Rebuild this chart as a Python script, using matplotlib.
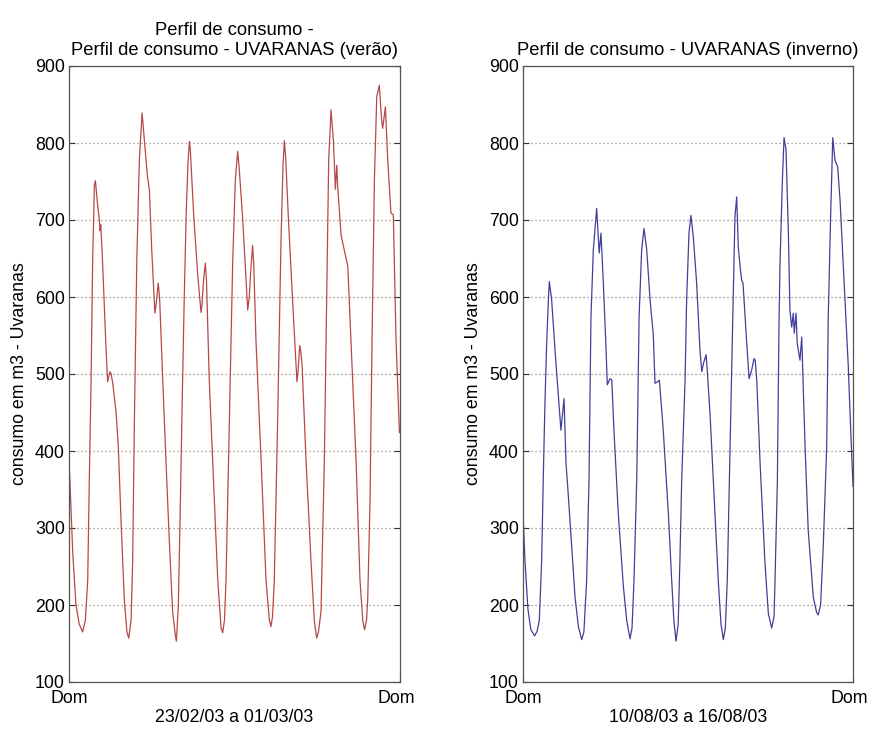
import matplotlib
matplotlib.use("Agg")
import matplotlib.pyplot as plt
import matplotlib.transforms as mtransforms
import numpy as np

plt.rcParams['font.family'] = ['Liberation Sans', 'DejaVu Sans']
plt.rcParams['font.size'] = 12.8

# semana de verao: 23/02/03 a 01/03/03 (horas desde domingo 0h, m3)
t_verao = [0.0, 1.9, 3.5, 5.2, 6.9, 8.3, 9.5, 10.3, 11.2, 12.0, 12.9, 13.4, 14.5, 15.4, 15.8,
           16.1, 16.8, 18.8, 19.6, 20.3, 20.8, 21.4, 22.2, 23.9, 25.0, 26.4, 28.1, 29.4, 30.3,
           31.5, 32.3, 33.2, 34.4, 35.7, 37.1, 38.2, 39.8, 40.8, 42.0, 43.6, 44.2, 45.3, 46.0,
           47.6, 49.2, 50.9, 52.6, 54.0, 54.5, 55.5, 56.5, 57.5, 58.5, 59.5, 60.4, 61.1, 61.6,
           63.3, 65.3, 67.0, 67.5, 68.4, 69.2, 69.8, 71.2, 73.8, 75.5, 77.2, 78.0, 78.9, 79.7,
           81.4, 83.1, 84.4, 85.6, 86.3, 88.2, 90.7, 91.5, 92.4, 93.2, 93.8, 94.9, 97.5, 100.0,
           101.7, 102.5, 103.3, 104.2, 105.9, 107.6, 108.6, 109.3, 110.0, 111.3, 113.9, 115.7,
           116.3, 117.1, 117.6, 118.3, 120.3, 122.8, 124.5, 125.7, 126.6, 127.9, 129.6, 130.8,
           131.8, 133.0, 134.2, 135.2, 135.9, 136.4, 138.1, 141.5, 144.0, 145.7, 147.7, 149.1,
           150.0, 151.0, 151.6, 152.8, 153.8, 155.0, 156.2, 157.5, 158.7, 159.2, 160.6, 161.8,
           163.4, 164.6, 166.0, 167.7]
consumo_verao = [390, 268, 201, 175, 165, 180, 232, 362, 491, 647, 746, 751, 720, 701, 686,
                 694, 660, 533, 490, 498, 503, 500, 488, 450, 408, 310, 206, 165, 157,
                 180, 255, 440, 647, 777, 839, 805, 757, 739, 661, 579, 590, 618, 598,
                 491, 388, 284, 191, 160, 153, 200, 330, 470, 600, 710, 775, 802, 790,
                 706, 630, 580, 590, 625, 644, 620, 491, 336, 232, 170, 164, 180, 232,
                 440, 647, 751, 789, 770, 700, 583, 600, 640, 667, 640, 543, 388, 232,
                 180, 172, 185, 232, 440, 673, 770, 803, 780, 705, 575, 490,
                 505, 537, 530, 512, 388, 258, 180, 157, 165, 191, 388, 595,
                 777, 843, 803, 740, 771, 742, 680, 640, 491, 388, 232, 180,
                 168, 180, 206, 336, 543, 751, 860, 875, 829, 819, 847, 777,
                 709, 707, 543, 424]

# semana de inverno: 10/08/03 a 16/08/03
t_inverno = [0.0, 1.0, 2.5, 4.0, 5.9, 7.2, 8.3, 9.5, 10.3, 11.2, 12.1, 12.9, 13.4, 14.6, 16.3,
             18.0, 19.3, 20.9, 21.9, 23.1, 24.8, 26.5, 28.2, 29.9, 31.0, 32.4, 33.6, 34.6, 35.8,
             37.5, 38.8, 39.7, 40.9, 42.3, 42.9, 44.3, 45.2, 46.3, 48.5, 51.1, 52.8, 54.5, 55.5,
             56.5, 57.9, 59.1, 60.4, 61.6, 63.0, 64.7, 66.3, 67.2, 68.6, 69.4, 69.8, 71.4, 74.0,
             75.7, 76.8, 77.9, 79.0, 79.9, 80.8, 82.5, 83.3, 84.5, 85.5, 86.7, 88.4, 90.1, 91.0,
             92.0, 93.2, 93.8, 95.2, 96.9, 99.4, 100.8, 102.0, 103.0, 104.0, 105.4, 106.8, 107.9,
             108.8, 109.6, 110.5, 111.3, 112.0, 113.9, 115.1, 116.4, 117.6, 118.2, 119.0, 120.7,
             123.2, 124.9, 126.6, 127.8, 128.3, 129.5, 130.3, 130.8, 132.0, 132.9, 133.9, 135.1,
             135.9, 136.8, 137.6, 138.1, 139.0, 139.6, 141.0, 141.9, 142.4, 143.6, 145.2, 147.8,
             149.5, 150.3, 151.5, 152.9, 154.6, 155.4, 156.6, 157.7, 158.8, 160.2, 161.4, 163.1,
             164.8, 165.6, 166.5, 168.0]
consumo_inverno = [320, 258, 195, 168, 160, 166, 180, 258, 362, 465, 543, 595, 620, 596, 531,
                   471, 427, 468, 384, 341, 275, 210, 172, 155, 165, 232, 362, 574, 661,
                   715, 657, 683, 618, 531, 486, 494, 492, 427, 319, 224, 180, 156, 170,
                   232, 362, 574, 661, 689, 661, 596, 552, 488, 490, 492, 480, 427, 319,
                   232, 180, 153, 175, 260, 363, 492, 596, 683, 706, 678, 618, 531, 503,
                   515, 525, 505, 449, 362, 232, 175, 155, 170, 232, 406, 574, 704,
                   730, 665, 640, 622, 618, 540, 494, 505, 520, 518, 492, 384,
                   254, 189, 170, 185, 232, 362, 560, 639, 748, 807, 791, 683,
                   583, 561, 579, 553, 579, 540, 518, 548, 505, 405, 297, 210,
                   190, 187, 200, 279, 405, 574, 704, 807, 778, 769, 726, 639,
                   553, 510, 449, 354]

dias_pos = [0, 168]
dias_lbl = ['Dom', 'Dom']
y_ticks = np.arange(100, 901, 100)

fig = plt.figure(figsize=(8.69, 7.29), dpi=100)
ax1 = fig.add_axes([69 / 869, 1 - 682 / 729, 331 / 869, 616 / 729])
ax2 = fig.add_axes([523 / 869, 1 - 682 / 729, 330 / 869, 616 / 729])


def estilo(ax, titulo, periodo):
    ax.set_xlim(0, 168)
    ax.set_ylim(100, 900)
    ax.set_yticks(y_ticks)
    ax.set_xticks(dias_pos)
    ax.set_xticklabels(dias_lbl)
    ax.tick_params(direction='in', length=4, width=0.8, color='#303030',
                   right=True, top=True, pad=3)
    ax.tick_params(axis='x', pad=6)
    # ultimo "Dom" um pouco para dentro, como no original
    ultimo = ax.get_xticklabels()[-1]
    ultimo.set_transform(ultimo.get_transform() +
                         mtransforms.ScaledTranslation(-4 / 100, 0, fig.dpi_scale_trans))
    for s in ax.spines.values():
        s.set_color('#555555')
        s.set_linewidth(0.9)
    ax.yaxis.grid(True, linestyle=(0, (1, 2.2)), color='#8a8a8a', linewidth=0.9)
    ax.set_axisbelow(True)
    ax.set_title(titulo, fontsize=13.2, pad=8, linespacing=1.2)
    ax.set_xlabel(periodo, labelpad=1)
    ax.set_ylabel('consumo em m3 - Uvaranas', labelpad=5)


ax1.plot(t_verao, consumo_verao, color='#b54848', linewidth=0.9)
estilo(ax1, 'Perfil de consumo -\nPerfil de consumo - UVARANAS (verão)', '23/02/03 a 01/03/03')

ax2.plot(t_inverno, consumo_inverno, color='#40409a', linewidth=0.9)
estilo(ax2, 'Perfil de consumo - UVARANAS (inverno)', '10/08/03 a 16/08/03')

fig.savefig('out.png', dpi=100)
